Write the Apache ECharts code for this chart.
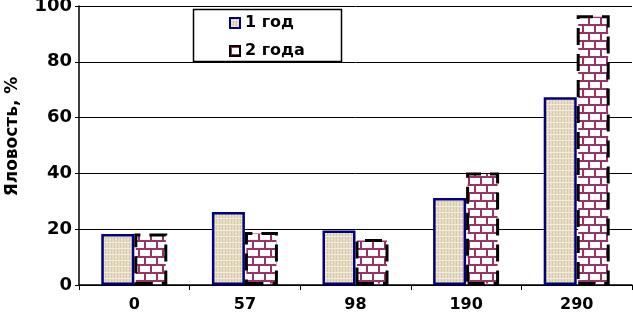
<!DOCTYPE html>
<html>
<head>
<meta charset="utf-8">
<script src="https://cdn.jsdelivr.net/npm/echarts@6/dist/echarts.min.js"></script>
<style>
  html, body { margin: 0; padding: 0; background: #fff; }
  #chart { width: 633px; height: 318px; }
</style>
</head>
<body>
<div id="chart"></div>
<script>
var categories = ["0", "57", "98", "190", "290"];
var year1 = [18.3, 26.2, 19.5, 31.2, 67.3];
var year2 = [18.5, 19, 16.5, 40.3, 96.7];
var seriesNames = ["1 год", "2 года"];

var FONT = "DejaVu Sans, Arial, sans-serif";

// beige linen texture for the first series
function linenPattern() {
    var c = document.createElement("canvas");
    c.width = 6;
    c.height = 6;
    var ctx = c.getContext("2d");
    ctx.fillStyle = "#e6dcc3";
    ctx.fillRect(0, 0, 6, 6);
    ctx.fillStyle = "#d6c9a8";
    ctx.fillRect(0, 0, 1, 6);
    ctx.fillRect(3, 0, 1, 6);
    ctx.fillStyle = "#f3ede0";
    ctx.fillRect(0, 2, 6, 1);
    ctx.fillRect(1, 5, 2, 1);
    return c;
}

// white bricks with maroon mortar for the second series
function brickPattern() {
    var w = 12, h = 8;
    var c = document.createElement("canvas");
    c.width = w;
    c.height = h * 2;
    var ctx = c.getContext("2d");
    ctx.fillStyle = "#ffffff";
    ctx.fillRect(0, 0, w, h * 2);
    ctx.fillStyle = "#993366";
    ctx.fillRect(0, 0, w, 2);
    ctx.fillRect(0, h, w, 2);
    ctx.fillRect(0, 0, 2, h);
    ctx.fillRect(w / 2, h, 2, h);
    return c;
}

var chart = echarts.init(document.getElementById("chart"));
var option = {
    animation: false,
    backgroundColor: "#ffffff",
    grid: {
        left: 79,
        right: 1,
        top: 6,
        bottom: 33,
        outerBoundsMode: "none"
    },
    graphic: [
        {
            type: "rect",
            shape: { x: 193.5, y: 9.5, width: 148, height: 52 },
            style: { fill: "#ffffff", stroke: "#000000", lineWidth: 1.5 },
            z: 10
        }
    ],
    legend: {
        orient: "vertical",
        left: 229,
        top: 14,
        itemGap: 10,
        itemWidth: 10,
        itemHeight: 10,
        icon: "rect",
        padding: 0,
        z: 20,
        textStyle: {
            fontFamily: FONT,
            fontWeight: "bold",
            fontSize: 16,
            lineHeight: 18,
            color: "#000000"
        },
        data: seriesNames
    },
    xAxis: {
        type: "category",
        data: categories,
        axisLine: { lineStyle: { color: "#000000", width: 1.5 } },
        axisTick: { show: true, length: 5, lineStyle: { color: "#000000" } },
        axisLabel: {
            margin: 12,
            fontFamily: FONT,
            fontWeight: "bold",
            fontSize: 16,
            color: "#000000"
        }
    },
    yAxis: {
        type: "value",
        min: 0,
        max: 100,
        interval: 20,
        name: "Яловость, %",
        nameLocation: "middle",
        nameGap: 58,
        nameTextStyle: {
            fontFamily: FONT,
            fontWeight: "bold",
            fontSize: 17,
            color: "#000000",
            padding: [0, 0, 0, 18]
        },
        axisLine: { show: true, lineStyle: { color: "#000000", width: 1.5 } },
        axisTick: { show: true, length: 4, lineStyle: { color: "#000000" } },
        splitLine: { lineStyle: { color: "#000000", width: 1 } },
        axisLabel: {
            margin: 7,
            fontFamily: FONT,
            fontWeight: "bold",
            fontSize: 18,
            color: "#000000"
        }
    },
    series: [
        {
            name: seriesNames[0],
            type: "bar",
            barWidth: 33,
            barGap: "0%",
            data: year1,
            itemStyle: {
                color: { image: linenPattern(), repeat: "repeat" },
                borderColor: "#000080",
                borderWidth: 2.5
            }
        },
        {
            name: seriesNames[1],
            type: "bar",
            barWidth: 33,
            data: year2,
            itemStyle: {
                color: { image: brickPattern(), repeat: "repeat" },
                borderColor: "#000000",
                borderWidth: 3,
                borderType: [17, 9]
            }
        }
    ]
};
chart.setOption(option);
</script>
</body>
</html>
